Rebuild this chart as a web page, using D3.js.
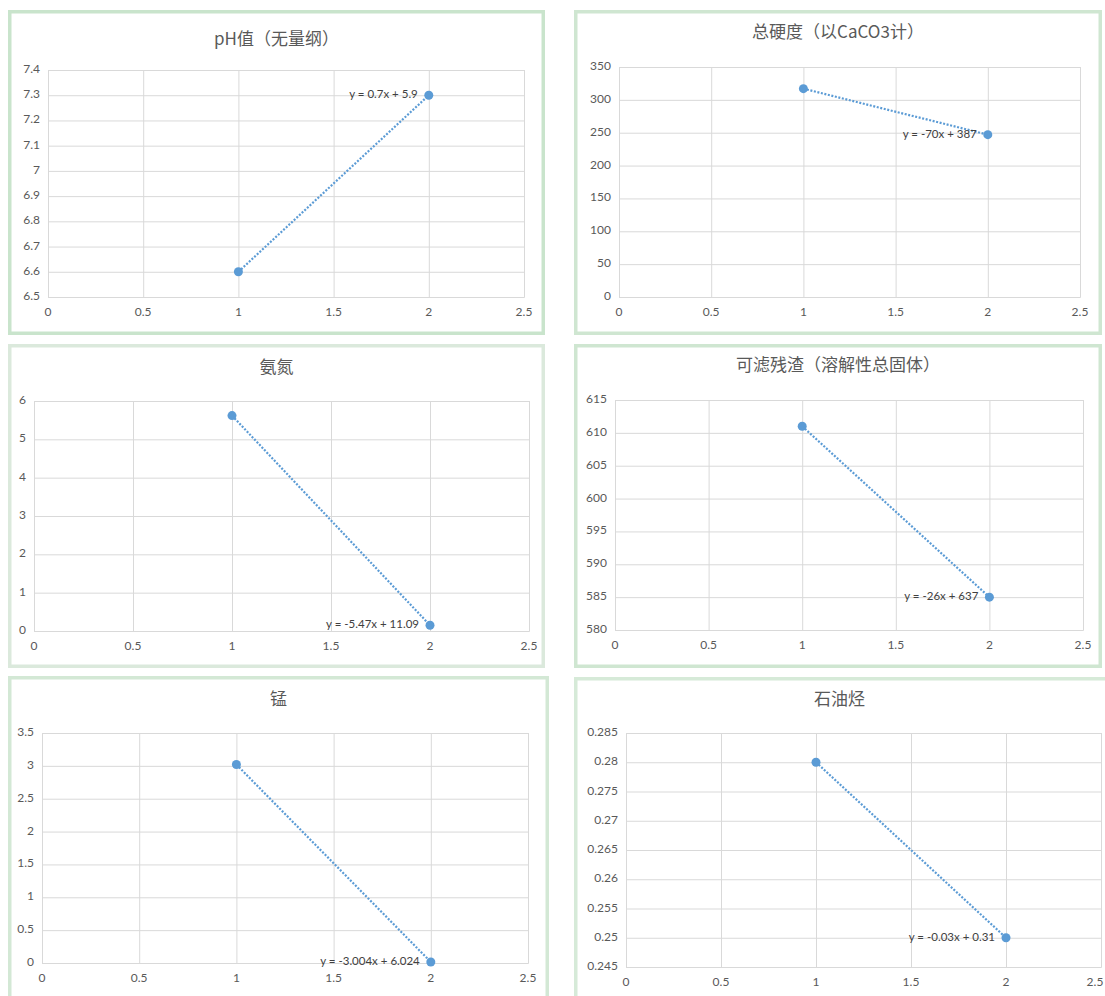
<!DOCTYPE html>
<html>
<head>
<meta charset="utf-8">
<script src="https://cdn.jsdelivr.net/npm/d3@7/dist/d3.min.js"></script>
<style>
  html, body { margin: 0; padding: 0; background: #ffffff; }
  svg { display: block; }
  .tick-label { font-family: "Lato", "Noto Sans", sans-serif; font-size: 12px; fill: #595959; }
  .title { font-family: "Noto Sans CJK SC", "Lato", sans-serif; font-size: 17px; fill: #595959; }
  .eq { font-family: "Lato", "Noto Sans", sans-serif; font-size: 11.5px; fill: #404040; }
</style>
</head>
<body>
<svg id="sheet" width="1105" height="996"></svg>
<script>
// ---- data ----
const titles = ["pH值（无量纲）", "总硬度（以CaCO3计）", "氨氮", "可滤残渣（溶解性总固体）", "锰", "石油烃"];
const sampleX = [1, 2];
const xTicks = [0, 0.5, 1, 1.5, 2, 2.5];

const phValues = [6.6, 7.3];
const hardnessValues = [317, 247];
const ammoniaValues = [5.62, 0.15];
const residueValues = [611, 585];
const manganeseValues = [3.02, 0.016];
const petroleumValues = [0.28, 0.25];

const phTicks = [6.5, 6.6, 6.7, 6.8, 6.9, 7, 7.1, 7.2, 7.3, 7.4];
const hardnessTicks = [0, 50, 100, 150, 200, 250, 300, 350];
const ammoniaTicks = [0, 1, 2, 3, 4, 5, 6];
const residueTicks = [580, 585, 590, 595, 600, 605, 610, 615];
const manganeseTicks = [0, 0.5, 1, 1.5, 2, 2.5, 3, 3.5];
const petroleumTicks = [0.245, 0.25, 0.255, 0.26, 0.265, 0.27, 0.275, 0.28, 0.285];

const equations = ["y = 0.7x + 5.9", "y = -70x + 387", "y = -5.47x + 11.09", "y = -26x + 637", "y = -3.004x + 6.024", "y = -0.03x + 0.31"];

// ---- layout of the six chart objects on the sheet ----
const layout = [
  { frame: [8, 10, 545, 335],    plot: [48, 70, 524, 297],    titleY: 40,  border: "#c9e4cc" },
  { frame: [574, 10, 1102, 335], plot: [619, 67, 1080, 297],  titleY: 33,  border: "#cfe6d1" },
  { frame: [8, 344, 545, 668],   plot: [34, 401, 529, 631],   titleY: 368, border: "#dbe9dc" },
  { frame: [574, 344, 1102, 668], plot: [615, 400, 1083, 630], titleY: 366, border: "#cfe6d1" },
  { frame: [8, 676, 549, 1004],  plot: [42, 733, 528, 963],   titleY: 700, border: "#d3e8d5" },
  { frame: [574, 677, 1112, 1004], plot: [626, 733, 1101, 967], titleY: 700, border: "#d6eAd8" }
];

const series = [phValues, hardnessValues, ammoniaValues, residueValues, manganeseValues, petroleumValues];
const yTickSets = [phTicks, hardnessTicks, ammoniaTicks, residueTicks, manganeseTicks, petroleumTicks];

const svg = d3.select("#sheet");
const W = 1105;
const pointColor = "#5b9bd5";
const gridColor = "#d9d9d9";
const fmt = d3.format("~g");

series.forEach((values, i) => {
  const L = layout[i];
  const [fx0, fy0, fx1, fy1] = L.frame;
  const [px0, py0, px1, py1] = L.plot;
  const g = svg.append("g");

  // chart frame
  g.append("rect")
    .attr("x", fx0 + 1.75).attr("y", fy0 + 1.75)
    .attr("width", fx1 - fx0 - 3.5).attr("height", fy1 - fy0 - 3.5)
    .attr("fill", "#ffffff")
    .attr("stroke", L.border)
    .attr("stroke-width", 3.5);

  const ticks = yTickSets[i];
  const x = d3.scaleLinear().domain([0, 2.5]).range([px0, px1]);
  const y = d3.scaleLinear().domain([ticks[0], ticks[ticks.length - 1]]).range([py1, py0]);

  // gridlines
  g.append("g")
    .attr("transform", `translate(0,${py1})`)
    .call(d3.axisBottom(x).tickValues(xTicks).tickSize(-(py1 - py0)).tickFormat(""))
    .call(a => a.select(".domain").attr("stroke", gridColor))
    .call(a => a.selectAll(".tick line").attr("stroke", gridColor));
  g.append("g")
    .attr("transform", `translate(${px0},0)`)
    .call(d3.axisLeft(y).tickValues(ticks).tickSize(-(px1 - px0)).tickFormat(""))
    .call(a => a.select(".domain").attr("stroke", gridColor))
    .call(a => a.selectAll(".tick line").attr("stroke", gridColor));

  // tick labels (kept inside the sheet at its right edge)
  g.selectAll(".xl").data(xTicks).enter().append("text")
    .attr("class", "tick-label")
    .attr("x", d => Math.min(x(d), W - 10)).attr("y", py1 + 16)
    .attr("text-anchor", "middle")
    .attr("dominant-baseline", "middle")
    .text(d => fmt(d));
  g.selectAll(".yl").data(ticks).enter().append("text")
    .attr("class", "tick-label")
    .attr("x", px0 - 8).attr("y", d => y(d))
    .attr("text-anchor", "end")
    .attr("dominant-baseline", "middle")
    .text(d => fmt(d));

  // title
  g.append("text")
    .attr("class", "title")
    .attr("x", (fx0 + Math.min(fx1, W)) / 2)
    .attr("y", L.titleY)
    .attr("text-anchor", "middle")
    .attr("dominant-baseline", "middle")
    .text(titles[i]);

  const pts = sampleX.map((d, k) => [d, values[k]]);

  // linear trendline through the two samples
  g.append("line")
    .attr("x1", x(pts[0][0])).attr("y1", y(pts[0][1]))
    .attr("x2", x(pts[1][0])).attr("y2", y(pts[1][1]))
    .attr("stroke", pointColor)
    .attr("stroke-width", 2.2)
    .attr("stroke-dasharray", "2 1.6");

  // markers
  g.selectAll("circle").data(pts).enter().append("circle")
    .attr("cx", d => x(d[0])).attr("cy", d => y(d[1]))
    .attr("r", 4.5)
    .attr("fill", pointColor);

  // trendline equation, set just left of the second sample
  g.append("text")
    .attr("class", "eq")
    .attr("x", x(pts[1][0]) - 11)
    .attr("y", y(pts[1][1]))
    .attr("text-anchor", "end")
    .attr("dominant-baseline", "middle")
    .text(equations[i]);
});
</script>
</body>
</html>
